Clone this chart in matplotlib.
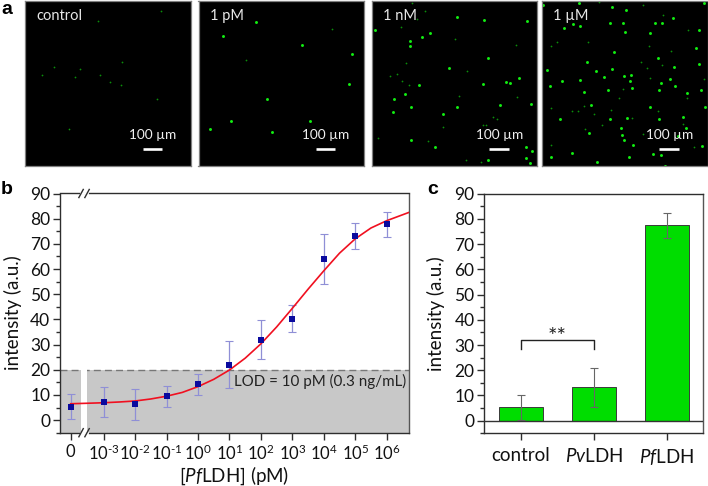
import matplotlib
matplotlib.use("Agg")
import matplotlib.pyplot as plt
from matplotlib.transforms import blended_transform_factory as btf

plt.rcParams['font.family'] = ['Lato', 'DejaVu Sans']
plt.rcParams['mathtext.fontset'] = 'custom'
plt.rcParams['mathtext.rm'] = 'Lato'
plt.rcParams['mathtext.it'] = 'Lato:italic'
plt.rcParams['mathtext.default'] = 'regular'

W, H = 708, 486
DARK = '#2e2e2e'

# ---- panel a: spot positions
panel_labels = ['control', '1 pM', '1 nM', '1 µM']
panel_origin = [75, 595, 35, 545]
bright_1 = [(207, 388)]
dim_1 = [(482, 32), (295, 63), (365, 187), (161, 201), (240, 206), (126, 225), (226, 230),
         (300, 224), (330, 246), (363, 255), (472, 296)]
bright_2 = [(769, 66), (670, 108), (906, 135), (1056, 162), (1047, 252), (801, 297), (693, 364),
            (629, 386), (930, 362), (817, 396)]
dim_2 = [(996, 88), (738, 181)]
bright_3 = [(292, 50), (371, 60), (500, 62), (44, 90), (209, 99), (186, 112), (151, 123), (150, 139),
            (385, 173), (267, 204), (177, 254), (369, 252), (438, 245), (451, 250), (476, 235),
            (136, 283), (103, 296), (152, 321), (290, 321), (420, 314), (513, 312), (100, 335),
            (248, 343), (152, 421), (224, 441), (499, 440), (517, 453), (385, 480), (510, 489),
            (499, 475)]
dim_3 = [(155, 8), (196, 34), (124, 81), (285, 117), (137, 188), (322, 212), (91, 229), (112, 221),
         (126, 244), (147, 256), (298, 289), (472, 290), (400, 352), (411, 358), (370, 374),
         (379, 376), (249, 381), (55, 414), (204, 422), (364, 486), (318, 479), (468, 135), (170, 58)]
bright_4 = [(550, 15), (658, 9), (757, 22), (799, 30), (1031, 10), (749, 70), (790, 70), (885, 68),
            (905, 68), (939, 53), (661, 78), (640, 73), (613, 83), (794, 97), (1018, 89), (870, 99),
            (763, 156), (681, 185), (894, 175), (1007, 145), (1017, 193), (943, 200), (560, 210),
            (709, 212), (755, 208), (733, 232), (792, 228), (812, 225), (810, 243), (661, 239),
            (606, 244), (569, 259), (930, 237), (902, 248), (944, 259), (816, 265), (743, 269),
            (672, 275), (896, 269), (1024, 270), (981, 278), (692, 315), (870, 320), (1034, 320),
            (600, 358), (897, 357), (970, 351), (750, 356), (802, 353), (783, 383), (785, 405),
            (791, 419), (688, 400), (819, 436), (955, 408), (637, 460), (574, 470), (806, 472),
            (878, 461), (902, 464), (1027, 437), (915, 497), (710, 487), (978, 385)]
dim_4 = [(718, 7), (848, 14), (908, 45), (984, 89), (590, 126), (572, 138), (685, 126), (868, 138),
         (932, 154), (843, 186), (862, 203), (905, 196), (870, 233), (1032, 236), (788, 268),
         (776, 294), (980, 295), (574, 324), (635, 332), (655, 334), (672, 319), (701, 341),
         (753, 330), (895, 332), (725, 374), (676, 386), (969, 373), (815, 353), (572, 434),
         (1002, 440), (848, 403)]
bright_spots = [bright_1, bright_2, bright_3, bright_4]
dim_spots = [dim_1, dim_2, dim_3, dim_4]

# ---- panel b
log_conc = [-4.05, -3, -2, -1, 0, 1, 2, 3, 4, 5, 6]
conc_labels = ['0', '$10^{\\text{-}3}$', '$10^{\\text{-}2}$', '$10^{\\text{-}1}$', '$10^{0}$', '$10^{1}$',
               '$10^{2}$', '$10^{3}$', '$10^{4}$', '$10^{5}$', '$10^{6}$']
intensity = [5.3, 7.2, 6.2, 9.4, 14.2, 22.0, 31.8, 40.1, 64.0, 73.0, 77.8]
err_low = [5.0, 6.1, 6.2, 4.1, 4.2, 9.4, 7.7, 5.3, 9.8, 5.2, 5.0]
err_high = [5.0, 6.0, 6.0, 4.0, 4.3, 9.4, 7.8, 5.5, 9.9, 5.1, 4.7]
fit_x = [-4.05, -3.5, -3, -2.5, -2, -1.5, -1, -0.5, 0, 0.5, 1, 1.5, 2, 2.5, 3, 3.5, 4, 4.5, 5, 5.5, 6, 6.71]
fit_y = [6.5, 6.7, 6.9, 7.2, 7.6, 8.4, 9.5, 11.0, 13.3, 16.2, 19.9, 24.6, 30.3, 37.0, 44.4, 52.0, 59.3, 66.3, 72.0, 76.3, 79.2, 82.5]
lod_level = 20

# ---- panel c
groups = ['control', '$\\mathit{Pv}$LDH', '$\\mathit{Pf}$LDH']
group_values = [5.3, 13.3, 77.5]
group_err = [4.9, 7.7, 5.0]


def add_axes(x0, y0, x1, y1):
    return fig.add_axes([x0 / W, 1 - y1 / H, (x1 - x0) / W, (y1 - y0) / H])


fig = plt.figure(figsize=(W / 100, H / 100), dpi=100)

# panel a
boxes = [(25, 190.5), (198.5, 364), (371.7, 537.3), (541.7, 707.5)]
for i, (x0, x1) in enumerate(boxes):
    ax = add_axes(x0, 0.7, x1, 166)
    ax.set_facecolor('black')
    o = panel_origin[i]
    ax.set_xlim(o, o + 497)
    ax.set_ylim(498, 2)
    ax.set_xticks([])
    ax.set_yticks([])
    for s in ax.spines.values():
        s.set_color('#808080')
        s.set_linewidth(0.9)
    xs, ys = zip(*bright_spots[i])
    sz = 4.5 if i else 1.5
    ax.scatter(xs, ys, s=sz, color='#12ee12' if i else '#0c9c0c', linewidths=0)
    xs, ys = zip(*dim_spots[i])
    ax.scatter(xs, ys, s=1.6, color='#0a8f0a', linewidths=0)
    ax.text(0.07, 0.905, panel_labels[i], transform=ax.transAxes, color='#e8e8e8', fontsize=10.5,
            ha='left', va='center')
    ax.text(0.77, 0.188, '100 µm', transform=ax.transAxes, color='#f0f0f0', fontsize=9.8,
            ha='center', va='center')
    ax.plot([0.71, 0.827], [0.105, 0.105], transform=ax.transAxes, color='white', lw=1.9,
            solid_capstyle='butt')

# panel b
axb = add_axes(60, 193.5, 409, 432.7)
axb.set_xlim(-4.39, 6.71)
axb.set_ylim(-5, 90)
axb.axhspan(-5, lod_level, color='#c8c8c8', lw=0, zorder=0)
axb.axhline(lod_level, color='#777777', lw=1, dashes=(5, 3), zorder=1)
axb.axvspan(-3.72, -3.53, color='white', lw=0, zorder=1.5)
axb.errorbar(log_conc, intensity, yerr=[err_low, err_high], fmt='none', ecolor='#8f8fd6',
             elinewidth=0.9, capsize=2.6, capthick=0.8, zorder=2)
axb.plot(fit_x, fit_y, color='#f01020', lw=1.2, zorder=3)
axb.plot(log_conc, intensity, 's', color='#0a0a9e', ms=3.9, mew=0, zorder=4)
axb.text(1.15, 15.3, 'LOD = 10 pM (0.3 ng/mL)', color='#222222', fontsize=10.9,
         ha='left', va='center', zorder=5)
axb.set_xticks(log_conc)
axb.set_xticklabels(conc_labels, fontsize=12)
axb.set_ylabel('intensity (a.u.)', fontsize=13.5, va='center')
axb.set_xlabel('[$\\mathit{Pf}$LDH] (pM)', fontsize=13.5, va='center')
axb.yaxis.set_label_coords(-0.134, 0.5)
axb.xaxis.set_label_coords(0.5, -0.18)
trans = btf(axb.transData, axb.transAxes)
for yb in (0, 1):
    axb.plot([-3.72, -3.53], [yb, yb], transform=trans, color='white', lw=2, clip_on=False, zorder=6)
    for dx in (-3.72, -3.53):
        axb.plot([dx - 0.07, dx + 0.07], [yb - 0.017, yb + 0.017], transform=trans, color=DARK, lw=1,
                 clip_on=False, zorder=7)

# panel c
axc = add_axes(484.3, 193.7, 702.7, 433.3)
axc.set_xlim(-0.5, 2.49)
axc.set_ylim(-5, 90)
axc.bar(range(3), group_values, width=0.6, color='#00dd00', edgecolor='#3a3a3a', linewidth=0.7, zorder=2)
axc.errorbar(range(3), group_values, yerr=group_err, fmt='none', ecolor='#666666', elinewidth=0.8,
             capsize=2.6, capthick=0.8, zorder=3)
axc.axhline(0, color='#333333', lw=1, zorder=4)
axc.plot([0, 0, 1, 1], [28.5, 32, 32, 28.5], color='#222222', lw=1, zorder=4)
axc.text(0.5, 33.2, '**', ha='center', va='center', fontsize=16, color='#222222')
axc.set_xticks(range(3))
axc.set_xticklabels(groups, fontsize=13.5)
axc.set_ylabel('intensity (a.u.)', fontsize=13.5, va='center')
axc.yaxis.set_label_coords(-0.221, 0.5)

for ax in (axb, axc):
    ax.set_yticks(range(0, 91, 10))
    ax.set_yticks(range(-5, 90, 10), minor=True)
    ax.tick_params(axis='y', which='major', labelsize=12.5, length=5, width=1, color=DARK, labelcolor='#111111', pad=2)
    ax.tick_params(axis='y', which='minor', length=3, width=1, color=DARK)
    ax.tick_params(axis='x', length=5, width=1, color=DARK, labelcolor='#111111', pad=5)
    ax.yaxis.label.set_color('#111111')
    ax.xaxis.label.set_color('#111111')
    for side in ('left', 'bottom', 'top'):
        ax.spines[side].set_color(DARK)
        ax.spines[side].set_linewidth(1)
    ax.spines['right'].set_color('#555555')
    ax.spines['right'].set_linewidth(1)
axb.tick_params(axis='x', pad=3)

# panel letters
for letter, (px, py) in {'a': (1, 9), 'b': (1, 189), 'c': (427, 189)}.items():
    fig.text(px / W, 1 - py / H, letter, fontsize=14, fontweight='bold', family='Liberation Sans',
             ha='left', va='center', color='black')

fig.savefig('out.png', dpi=100)
